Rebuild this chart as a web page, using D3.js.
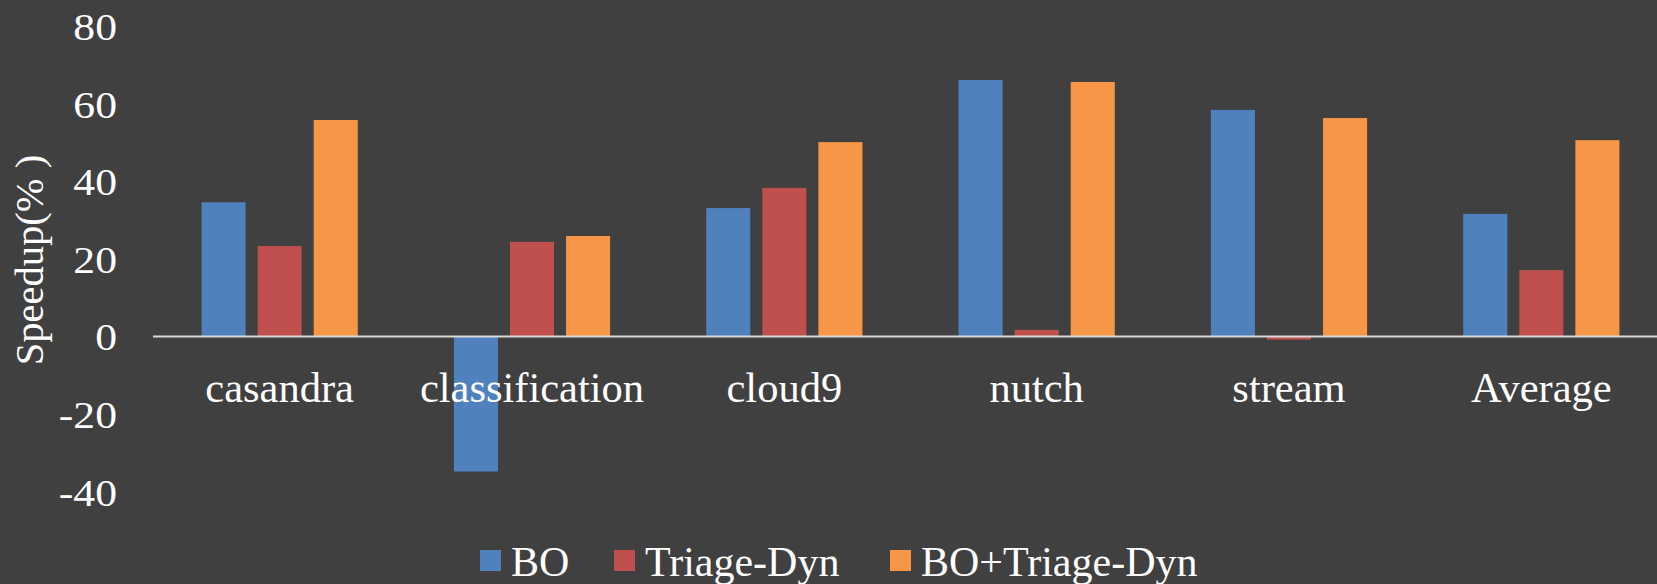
<!DOCTYPE html>
<html>
<head>
<meta charset="utf-8">
<script src="https://cdn.jsdelivr.net/npm/d3@7"></script>
<style>
  html, body { margin: 0; padding: 0; background: #404040; }
  svg { display: block; }
  text { font-family: "Liberation Serif", "Times New Roman", serif; fill: #ffffff; }
</style>
</head>
<body>
<svg id="chart" width="1657" height="584"></svg>
<script>
// Benchmarks and speedup percentages per configuration
const categories = ["casandra", "classification", "cloud9", "nutch", "stream", "Average"];
const seriesNames = ["BO", "Triage-Dyn", "BO+Triage-Dyn"];
const boValues = [34.6, -34.8, 33.1, 66.1, 58.4, 31.6];
const triageDynValues = [23.3, 24.4, 38.3, 1.7, -0.8, 17.1];
const boTriageDynValues = [55.8, 25.9, 50.1, 65.6, 56.3, 50.6];
const yTicks = [-40, -20, 0, 20, 40, 60, 80];
const seriesColors = ["#4f81bd", "#c0504d", "#f79646"];

const seriesValues = [boValues, triageDynValues, boTriageDynValues];
const rows = categories.map((c, i) => ({
  category: c,
  values: seriesNames.map((s, j) => ({ series: s, value: seriesValues[j][i], color: seriesColors[j] }))
}));

const svg = d3.select("#chart");
const W = 1657, H = 584;

svg.append("rect").attr("width", W).attr("height", H).attr("fill", "#404040");

const x0 = d3.scaleBand().domain(categories).range([153.5, 1667.5]).padding(0);
const step = x0.bandwidth();
const x1 = d3.scaleBand().domain(seriesNames).range([0, step])
  .paddingInner(12 / 56).paddingOuter(0.857);
const y = d3.scaleLinear().domain([-40, 80]).range([491.7, 26.1]);

// Y tick labels (no axis line or tick marks)
const yAxis = d3.axisLeft(y).tickValues(yTicks).tickSize(0).tickPadding(0)
  .tickFormat(d => String(d));
const yg = svg.append("g").attr("transform", "translate(117,0)").call(yAxis);
yg.select(".domain").remove();
yg.selectAll(".tick text")
  .attr("x", null).attr("dy", null)
  .style("font-size", "39px")
  .style("font-family", "'Liberation Serif', 'Times New Roman', serif")
  .attr("fill", "#ffffff")
  .attr("text-anchor", "end")
  .attr("transform", "translate(0,13.3) scale(1.12,1)");

// Bars
const groups = svg.append("g").selectAll("g").data(rows).join("g")
  .attr("transform", d => `translate(${x0(d.category)},0)`);
groups.selectAll("rect").data(d => d.values).join("rect")
  .attr("x", d => x1(d.series))
  .attr("width", x1.bandwidth())
  .attr("y", d => y(Math.max(0, d.value)))
  .attr("height", d => Math.abs(y(d.value) - y(0)))
  .attr("fill", d => d.color);

// Zero baseline
svg.append("line")
  .attr("x1", 153).attr("x2", W)
  .attr("y1", y(0)).attr("y2", y(0))
  .attr("stroke", "#d9d9d9").attr("stroke-width", 2);

// Category labels
svg.append("g").selectAll("text").data(categories).join("text")
  .attr("x", d => x0(d) + step / 2)
  .attr("y", y(0) + 65)
  .attr("text-anchor", "middle")
  .style("font-size", "42.5px")
  .text(d => d);

// Y axis title
svg.append("text")
  .attr("transform", "translate(43,260) rotate(-90)")
  .attr("text-anchor", "middle")
  .style("font-size", "40.5px")
  .text("Speedup(% )");

// Legend
const legendX = [480, 614, 890];
const legend = svg.append("g").selectAll("g").data(seriesNames).join("g")
  .attr("transform", (d, i) => `translate(${legendX[i]},0)`);
legend.append("rect")
  .attr("x", 0).attr("y", 550).attr("width", 21).attr("height", 21)
  .attr("fill", (d, i) => seriesColors[i]);
legend.append("text")
  .attr("x", 31).attr("y", 576)
  .style("font-size", "42px")
  .text(d => d);
</script>
</body>
</html>
